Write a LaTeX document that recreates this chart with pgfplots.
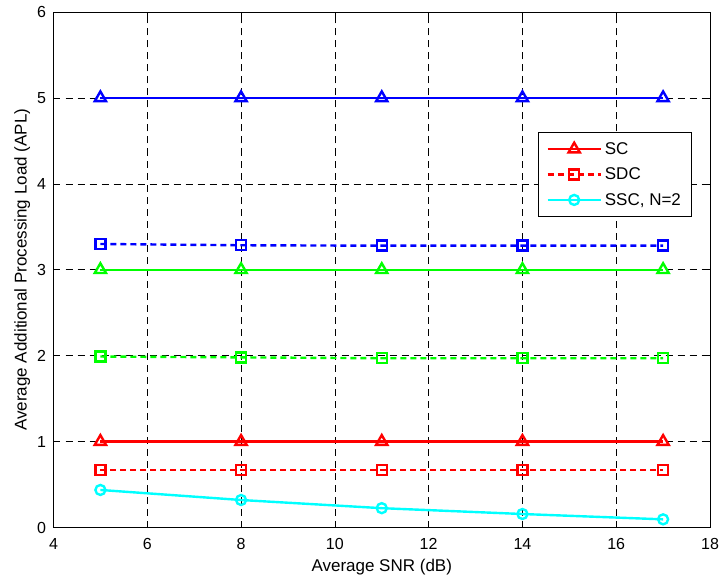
\documentclass[border=0pt]{standalone}
\usepackage{fontspec}
\setmainfont{Liberation Sans}
\usepackage{pgfplots}
\pgfplotsset{compat=1.18}
\definecolor{mred}{RGB}{255,0,0}
\definecolor{mgreen}{RGB}{0,255,0}
\definecolor{mblue}{RGB}{0,0,255}
\definecolor{mcyan}{RGB}{0,255,255}
\begin{document}
\begin{tikzpicture}
\useasboundingbox (-53.5pt,-54.5pt) rectangle (666.5pt,527.5pt);
\begin{axis}[
  at={(0pt,0pt)}, anchor=south west,
  scale only axis,
  width=656.5pt, height=515.5pt,
  xmin=4, xmax=18, ymin=0, ymax=6,
  xtick={4,6,...,18}, ytick={0,1,...,6},
  /pgf/number format/assume math mode=true,
  tick label style={font=\fontsize{16}{18}\selectfont},
  label style={font=\fontsize{17}{19}\selectfont},
  xticklabel style={yshift=-7pt},
  yticklabel style={xshift=-4pt},
  xlabel={Average SNR (dB)},
  ylabel={Average Additional Processing Load (APL)},
  xlabel style={yshift=-3pt},
  ylabel style={yshift=0pt},
  grid=major,
  major grid style={black, dash pattern=on 7pt off 5pt, line width=0.6pt},
  tick align=inside,
  major tick length=6pt,
  axis line style={black, line width=1pt},
  every tick/.style={black, line width=0.6pt},
  legend style={at={(484.5pt,395.5pt)}, anchor=north west, draw=black, line width=1pt,
    font=\fontsize{17}{19}\selectfont, row sep=8pt, inner xsep=8pt, inner ysep=8pt,
    legend cell align=left,
    nodes={inner xsep=3pt}},
  legend image code/.code={\draw[mark repeat=2,mark phase=2] plot coordinates {(0pt,0pt) (26.5pt,0pt) (53pt,0pt)};},
]
% SC (red)
\addplot[mred, line width=2.4pt, mark=triangle, mark size=6.5pt, mark options={solid, line width=2.4pt}]
  coordinates {(5,1) (8,1) (11,1) (14,1) (17,1)};
\addlegendentry{SC}
% SDC (red)
\addplot[mred, line width=2.4pt, dash pattern=on 6pt off 4pt, mark=square, mark size=5pt, mark options={solid, line width=2.4pt}]
  coordinates {(5,0.667) (8,0.667) (11,0.667) (14,0.667) (17,0.667)};
\addlegendentry{SDC}
% SSC N=2
\addplot[mcyan, line width=2.4pt, mark=o, mark size=5pt, mark options={solid, line width=2.4pt}]
  coordinates {(5,0.437) (8,0.32) (11,0.225) (14,0.157) (17,0.095)};
\addlegendentry{SSC, N=2}
% green
\addplot[mgreen, line width=2.4pt, mark=triangle, mark size=6.5pt, mark options={solid, line width=2.4pt}, forget plot]
  coordinates {(5,3) (8,3) (11,3) (14,3) (17,3)};
\addplot[mgreen, line width=2.4pt, dash pattern=on 6pt off 4pt, mark=square, mark size=5pt, mark options={solid, line width=2.4pt}, forget plot]
  coordinates {(5,1.99) (8,1.98) (11,1.97) (14,1.97) (17,1.97)};
% blue
\addplot[mblue, line width=2.4pt, mark=triangle, mark size=6.5pt, mark options={solid, line width=2.4pt}, forget plot]
  coordinates {(5,5) (8,5) (11,5) (14,5) (17,5)};
\addplot[mblue, line width=2.4pt, dash pattern=on 6pt off 4pt, mark=square, mark size=5pt, mark options={solid, line width=2.4pt}, forget plot]
  coordinates {(5,3.30) (8,3.285) (11,3.28) (14,3.28) (17,3.28)};
\end{axis}
\end{tikzpicture}
\end{document}
